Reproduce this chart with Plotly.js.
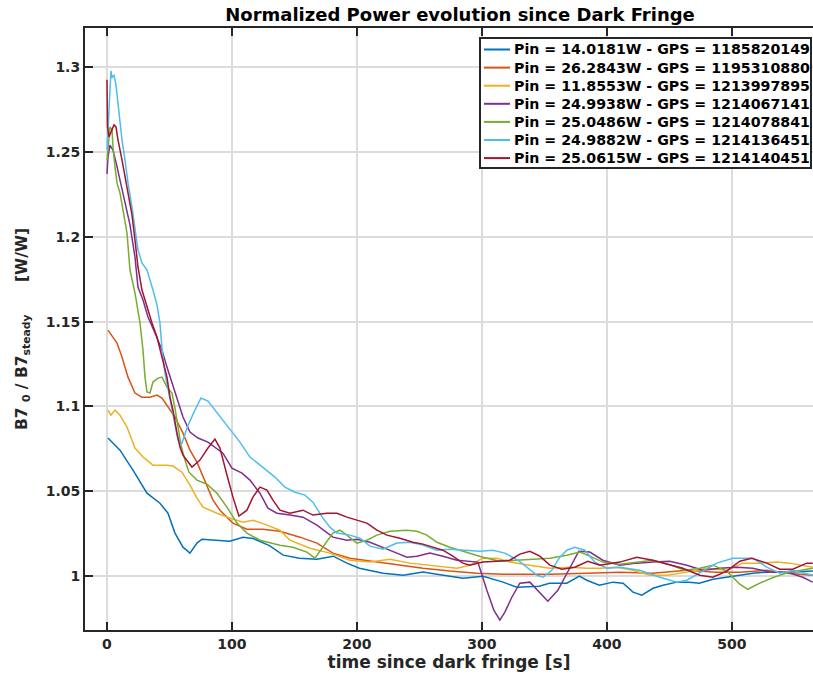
<!DOCTYPE html>
<html>
<head>
<meta charset="utf-8">
<script src="https://cdn.plot.ly/plotly-3.0.1.min.js"></script>
<style>html,body{margin:0;padding:0;background:#fff;}#chart{width:813px;height:684px;}</style>
</head>
<body>
<div id="chart"></div>
<script>
const seriesNames = [
  "Pin = 14.0181W - GPS = 1185820149",
  "Pin = 26.2843W - GPS = 1195310880",
  "Pin = 11.8553W - GPS = 1213997895",
  "Pin = 24.9938W - GPS = 1214067141",
  "Pin = 25.0486W - GPS = 1214078841",
  "Pin = 24.9882W - GPS = 1214136451",
  "Pin = 25.0615W - GPS = 1214140451"
];
const seriesColors = ["#0072BD","#D95319","#EDB120","#7E2F8E","#77AC30","#4DBEEE","#A2142F"];

const t1 = [0.8,10.4,20.8,32,42.4,48.8,54.4,60.8,66.4,72,76,84.8,98.4,108.8,117,130,141,154,168,181,192,202,221,237,253,264,285,301,317,328,346,354,368,378,384,394,405,413,421,428,437,445,456,466,474,485,496,506,517,528,544,565];
const y1 = [1.0814,1.0743,1.0625,1.0489,1.0430,1.0371,1.0254,1.0171,1.0136,1.0195,1.0218,1.0212,1.0206,1.0230,1.0222,1.0180,1.0124,1.0106,1.0100,1.0118,1.0077,1.0047,1.0018,1.0006,1.0024,1.0012,0.9988,1.0000,0.9965,0.9935,0.9941,0.9959,0.9959,1.0000,0.9976,0.9947,0.9965,0.9959,0.9906,0.9888,0.9929,0.9947,0.9965,0.9965,0.9959,0.9982,0.9994,1.0006,1.0018,1.0024,1.0024,1.0030];

const t2 = [0.8,2.4,8,12,16.8,22.4,28,34.4,40,44,48.8,54.4,60.8,66.4,72,80,84.8,90.4,100.8,112,124.8,138.4,154.4,168,180.8,194.4,216,236.8,252.8,274.4,296,316.8,340.8,354.4,384,410.4,436.8,464,488,506.4,528,544,564.8];
const y2 = [1.145,1.1433,1.1374,1.1291,1.1173,1.1079,1.1055,1.1055,1.1067,1.105,1.0996,1.0938,1.0843,1.0743,1.0672,1.0525,1.0448,1.0389,1.0313,1.0277,1.0277,1.0265,1.023,1.0195,1.0136,1.0106,1.0083,1.0065,1.0047,1.003,1.0018,1.0012,1.0012,1.0012,1.0018,1.0024,1.0018,1.0035,1.0024,1.0024,1.0035,1.0018,1.0006];

const t3 = [0.8,3.2,6.4,10.4,16,22.4,28.8,36.8,48,52.8,60,66.4,72,76.8,88,98.4,108.8,116.8,128,138.4,146.4,162.4,178.4,194.4,210.4,226.4,242.4,258.4,280,290.4,300.8,312,322.4,338.4,354.4,370.4,384,394.4,408,420.8,434.4,448,464,480,496,508.8,522.4,536,546.4,564.8];
const y3 = [1.0979,1.0949,1.0979,1.0949,1.0879,1.0755,1.0702,1.0654,1.0654,1.0649,1.0613,1.0537,1.046,1.0407,1.0371,1.0342,1.0318,1.033,1.0301,1.0271,1.0212,1.0165,1.0136,1.0094,1.0083,1.01,1.0077,1.0065,1.0047,1.0065,1.0106,1.0106,1.0083,1.0065,1.0047,1.0053,1.0047,1.0047,1.0053,1.0035,1.0006,1.0006,1.0024,1.0047,1.0035,1.0077,1.0077,1.0083,1.0077,1.0053];

const t4 = [0,0.8,2.4,4.8,7.2,10.4,14.4,18.4,22.4,24.8,28.8,32.8,38.4,44,48,52,56.8,60.8,66.4,72.8,80.8,86.4,92.8,100,108,114.4,122.4,128.8,136,146.4,156.8,168,180.8,192,200,210.4,220.8,232,240,248,258.4,268.8,280,290.4,296.8,304,309.6,314.4,318.4,324,330.4,338.4,346.4,352.8,360.8,370.4,377.6,386.4,396.8,410.4,424,436.8,450.4,464,476.8,490.4,504,516.8,530.4,544,556.8,564.8];
const y4 = [1.237,1.247,1.254,1.251,1.244,1.2335,1.2217,1.207,1.188,1.1704,1.1627,1.1527,1.1433,1.1333,1.1232,1.1138,1.1038,1.0938,1.0849,1.0814,1.079,1.0761,1.0725,1.0637,1.0607,1.0566,1.0489,1.0401,1.0371,1.036,1.0348,1.0301,1.023,1.0212,1.0218,1.02,1.0171,1.0136,1.0112,1.0118,1.0136,1.0118,1.0094,1.0088,1.0083,0.9917,0.98,0.9741,0.9788,0.9876,0.9959,0.9965,0.9906,0.9853,0.9917,1.0053,1.0147,1.0142,1.0094,1.0065,1.0077,1.0083,1.0088,1.0065,1.0035,1.0047,1.0053,1.0047,1.0024,1.0024,0.9994,0.9965];

const t5 = [0,2.4,4,4.8,6.4,8,10.4,12.8,16,18.4,22.4,26.4,28.8,30.4,32,34.4,36.8,40.8,44,48,52,54.4,56.8,59.2,62.4,65.6,72,80,88,96,104,112,122.4,138.4,148.8,160,166.4,172.8,180.8,186.4,192,200,208,216,226.4,240,248,256,264,274.4,288,300.8,314.4,328,340.8,354.4,368,378.4,386.4,396.8,410.4,424,436.8,448.8,462.4,474.4,484.8,496,506.4,512.8,522.4,533.6,546.4,564.8];
const y5 = [1.245,1.2647,1.263,1.253,1.2412,1.2317,1.2258,1.2158,1.2022,1.1804,1.1669,1.1492,1.1333,1.1173,1.1085,1.1079,1.1144,1.1167,1.1173,1.1114,1.1079,1.0991,1.089,1.0772,1.0684,1.0613,1.0566,1.0542,1.0489,1.0407,1.0313,1.0254,1.0212,1.0183,1.0171,1.0142,1.0106,1.0171,1.0254,1.0271,1.0242,1.0195,1.0212,1.0242,1.0265,1.0271,1.0265,1.0242,1.02,1.0171,1.0142,1.0112,1.0088,1.0094,1.01,1.0106,1.0124,1.0142,1.0118,1.0083,1.0071,1.0083,1.0094,1.0071,1.0035,1.0047,1.0065,1.003,0.9953,0.9923,0.9959,0.9994,1.0024,1.0047];

const t6 = [0,0.8,2.4,3.2,4,5.6,7.2,8.8,10.4,12,14.4,16.8,20,22.4,24.8,28,32,36.8,40,42.4,44,46.4,50.4,54.4,56.8,60,64,69.6,75.2,80.8,89.6,98.4,106.4,114.4,124.8,134.4,142.4,150.4,158.4,164.8,172.8,178.4,184,194.4,202.4,210.4,220.8,232,242.4,252.8,264,274.4,286.4,298.4,308.8,318.4,328.8,336.8,344,348.8,356,362.4,368,374.4,382.4,390.4,400,410.4,426.4,442.4,456,464,474.4,488,500.8,516.8,528,538.4,548.8,564.8];
const y6 = [1.2512,1.2642,1.2925,1.2978,1.2936,1.2954,1.2895,1.2777,1.2659,1.2571,1.2453,1.2317,1.2176,1.204,1.1922,1.1846,1.1804,1.1686,1.1598,1.1492,1.1344,1.1197,1.1038,1.089,1.0802,1.0784,1.0873,1.0967,1.105,1.1032,1.0949,1.0861,1.079,1.0702,1.0643,1.0584,1.0525,1.0495,1.0478,1.0436,1.0342,1.0289,1.0254,1.0242,1.0224,1.0177,1.0159,1.0195,1.02,1.0183,1.0153,1.0159,1.0153,1.0147,1.0153,1.0136,1.0094,1.0047,1.0006,0.9994,1.0035,1.0112,1.0153,1.0171,1.0153,1.0083,1.0047,1.0053,1.0035,0.9994,0.9965,0.9976,1.0018,1.0077,1.0106,1.0106,1.0053,1.0018,1.0035,1.0006];

const t7 = [0,0.4,1.6,4,5.6,7.2,8.8,12,14.4,16.8,20,22.4,24.8,28,32,36,40,42.4,44.8,48,50.4,52.8,56,58.4,60.8,68,74.4,80.8,86.4,90.4,96,100.8,105.6,112,116.8,122.4,128,132.8,138.4,146.4,156.8,164.8,176,184,192,200,208,216,224,234.4,244.8,252.8,260.8,268.8,276.8,284.8,290.4,300.8,312,322.4,330.4,338.4,346.4,354.4,364,374.4,384.8,394.4,410.4,424,436.8,448,460.8,474.4,484.8,496,506.4,516,528,538.4,548.8,560,564.8];
const y7 = [1.2925,1.2647,1.2588,1.263,1.2659,1.2647,1.2571,1.2453,1.2353,1.2264,1.2129,1.1981,1.1822,1.1686,1.1586,1.1492,1.1409,1.1333,1.1274,1.1173,1.1055,1.0979,1.0843,1.0761,1.0713,1.0643,1.0684,1.0755,1.0808,1.0755,1.0596,1.0466,1.0354,1.0389,1.0466,1.0525,1.0507,1.0448,1.0389,1.0371,1.0389,1.036,1.0371,1.0371,1.0348,1.033,1.0313,1.0271,1.0242,1.0224,1.02,1.0189,1.0171,1.0153,1.0118,1.0077,1.0065,1.0083,1.0088,1.0094,1.013,1.0147,1.0118,1.0065,1.0041,1.0053,1.0088,1.0065,1.0083,1.0112,1.0094,1.0071,1.0047,1.0006,0.9994,1.003,1.0088,1.0106,1.0077,1.0041,1.0041,1.0077,1.0077];

const xTickVals = [0,100,200,300,400,500];
const yTickVals = [1,1.05,1.1,1.15,1.2,1.25,1.3];
const yTickText = ["1","1.05","1.1","1.15","1.2","1.25","1.3"];

const ts = [t1,t2,t3,t4,t5,t6,t7];
const ys = [y1,y2,y3,y4,y5,y6,y7];

const traces = ts.map((t,i)=>({
  x: t, y: ys[i], type:'scatter', mode:'lines', name: seriesNames[i],
  line:{color: seriesColors[i], width:1.5}, showlegend:false
}));

// plot-area geometry (pixels) used to place the legend box in paper coordinates
const W = 813, H = 684, ML = 85, MR = 0, MT = 28, MB = 54;
const PW = W - ML - MR, PH = H - MT - MB;
const px = v => (v - ML) / PW;
const py = v => (H - MB - v) / PH;

const fontFam = 'DejaVu Sans, sans-serif';
const leg = {left:480, right:811, top:38, bottom:168, firstY:49.5, step:18.1, lineX0:484, lineX1:510, textX:512};

const shapes = [{type:'rect', xref:'paper', yref:'paper', x0:px(leg.left), x1:px(leg.right), y0:py(leg.bottom), y1:py(leg.top),
  fillcolor:'#fff', line:{color:'#262626', width:2}, layer:'above'}];
const annotations = [];
seriesNames.forEach((n,i)=>{
  const yy = leg.firstY + i*leg.step;
  shapes.push({type:'line', xref:'paper', yref:'paper', x0:px(leg.lineX0), x1:px(leg.lineX1), y0:py(yy), y1:py(yy),
    line:{color:seriesColors[i], width:2}, layer:'above'});
  annotations.push({xref:'paper', yref:'paper', x:px(leg.textX), y:py(yy), xanchor:'left', yanchor:'middle', showarrow:false,
    text:n, font:{family:fontFam, size:14.2, color:'#000', weight:'bold'}});
});

const layout = {
  width:W, height:H,
  margin:{l:ML, r:MR, t:MT, b:MB},
  paper_bgcolor:'#fff', plot_bgcolor:'#fff',
  title:{text:'Normalized Power evolution since Dark Fringe', x:px(460), xref:'paper', xanchor:'center', y:0.979, yanchor:'middle',
    font:{family:fontFam, size:18, color:'#000', weight:'bold'}},
  xaxis:{range:[-17.6,565], tickvals:xTickVals, ticks:'inside', ticklen:8, tickwidth:2, tickcolor:'#262626',
    showline:true, linecolor:'#262626', linewidth:2, mirror:'ticks',
    showgrid:true, gridcolor:'#dcdcdc', gridwidth:2, zeroline:false,
    tickfont:{family:fontFam, size:14, color:'#262626', weight:'bold'},
    title:{text:'time since dark fringe [s]', standoff:4, font:{family:fontFam, size:17, color:'#262626', weight:'bold'}}},
  yaxis:{range:[0.9683,1.323], tickvals:yTickVals, ticktext:yTickText, ticks:'inside', ticklen:8, tickwidth:2, tickcolor:'#262626',
    showline:true, linecolor:'#262626', linewidth:2, mirror:false,
    showgrid:true, gridcolor:'#dcdcdc', gridwidth:2, zeroline:false,
    tickfont:{family:fontFam, size:14, color:'#262626', weight:'bold'},
    title:{text:'B7 <sub>0</sub> / B7<sub>steady</sub>      [W/W]', standoff:14, font:{family:fontFam, size:15.5, color:'#262626', weight:'bold'}}},
  showlegend:false,
  shapes:shapes,
  annotations:annotations
};

Plotly.newPlot('chart', traces, layout, {displayModeBar:false, staticPlot:true});
</script>
</body>
</html>
